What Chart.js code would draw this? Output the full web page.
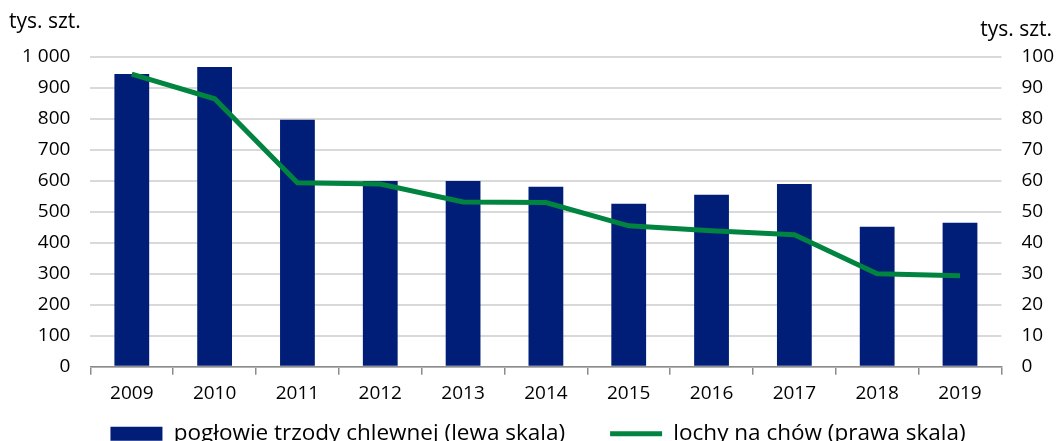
<!DOCTYPE html>
<html>
<head>
<meta charset="utf-8">
<script src="https://cdn.jsdelivr.net/npm/chart.js@4"></script>
<style>
  html, body { margin: 0; padding: 0; background: #fff; }
  #wrap { width: 1062px; height: 441px; position: relative; }
</style>
</head>
<body>
<div id="wrap"><canvas id="chart"></canvas></div>
<script>
const years = ['2009', '2010', '2011', '2012', '2013', '2014', '2015', '2016', '2017', '2018', '2019'];
const herd = [945, 968, 797, 600, 600, 581, 526, 555, 590, 452, 465];
const sows = [94.5, 86.5, 59.4, 59, 53.2, 53, 45.5, 43.9, 42.6, 30, 29.4];
const herdLabel = 'pogłowie trzody chlewnej (lewa skala)';
const sowsLabel = 'lochy na chów (prawa skala)';
const unitLabel = 'tys. szt.';

const font = { family: '"Open Sans", sans-serif', size: 19 };
const legendFont = { family: '"Open Sans", sans-serif', size: 22.5 };
const itemGap = 45;

// "1 000" style thousands
function fmt(v) {
    return String(v).replace(/\B(?=(\d{3})+(?!\d))/g, ' ');
}

const unitTitles = {
    id: 'unitTitles',
    afterDraw(chart) {
        const ctx = chart.ctx;
        ctx.save();
        ctx.font = `21px ${font.family}`;
        ctx.fillStyle = '#000';
        ctx.textBaseline = 'middle';
        ctx.textAlign = 'left';
        ctx.fillText(unitLabel, 9, 22);
        ctx.textAlign = 'right';
        ctx.fillText(unitLabel, 1052, 30);
        ctx.restore();
    }
};

// legend padding is both the gap between items and the space above them;
// keep the wide horizontal gap but squeeze the vertical one back
const legendGap = {
    id: 'legendGap',
    beforeInit(chart) {
        const legend = chart.legend;
        const fit = legend.fit;
        const draw = legend.draw;
        const extra = itemGap - 10;
        legend.fit = function () {
            fit.call(this);
            this.height += 6 - extra;
        };
        legend.draw = function () {
            this.top -= extra - 1;
            draw.call(this);
            this.top += extra - 1;
        };
    }
};

new Chart(document.getElementById('chart'), {
    data: {
        labels: years,
        datasets: [
            {
                type: 'line',
                label: sowsLabel,
                data: sows,
                yAxisID: 'y1',
                borderColor: '#00843f',
                backgroundColor: '#00843f',
                borderWidth: 5,
                pointRadius: 0,
                pointStyle: 'line',
                tension: 0,
                order: 0
            },
            {
                type: 'bar',
                label: herdLabel,
                data: herd,
                yAxisID: 'y',
                backgroundColor: '#001d77',
                borderWidth: 0,
                pointStyle: 'rect',
                barPercentage: 0.42,
                categoryPercentage: 1,
                order: 1
            }
        ]
    },
    options: {
        responsive: true,
        maintainAspectRatio: false,
        animation: false,
        layout: { padding: { top: 57, left: 2, right: -12, bottom: -19 } },
        plugins: {
            legend: {
                position: 'bottom',
                reverse: true,
                labels: {
                    font: legendFont,
                    color: '#000',
                    usePointStyle: true,
                    pointStyleWidth: 52,
                    boxHeight: 14,
                    padding: itemGap
                }
            },
            tooltip: { enabled: false }
        },
        scales: {
            x: {
                grid: { display: true, drawOnChartArea: false, offset: true, tickLength: 8, color: '#8c8c8c', lineWidth: 1.5 },
                border: { color: '#8c8c8c', width: 1.5 },
                ticks: { font: font, color: '#000', padding: 7 }
            },
            y: {
                position: 'left',
                min: 0,
                max: 1000,
                ticks: { stepSize: 100, font: font, color: '#000', padding: 20, callback: v => fmt(v) },
                grid: { color: '#d9d9d9', lineWidth: 2, drawTicks: false },
                border: { display: false }
            },
            y1: {
                position: 'right',
                min: 0,
                max: 100,
                ticks: { stepSize: 10, font: font, color: '#000', padding: 20 },
                grid: { drawOnChartArea: false, drawTicks: false },
                border: { display: false }
            }
        }
    },
    plugins: [unitTitles, legendGap]
});
</script>
</body>
</html>
